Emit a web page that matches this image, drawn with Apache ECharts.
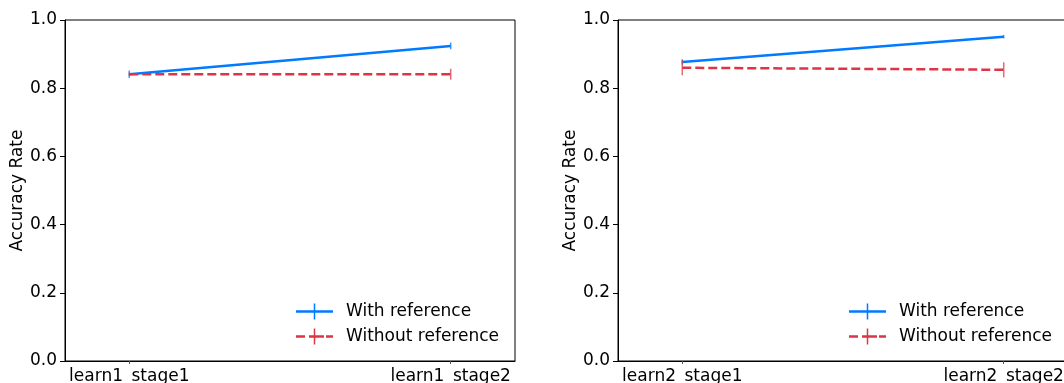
<!DOCTYPE html>
<html>
<head>
<meta charset="utf-8">
<script src="https://cdn.jsdelivr.net/npm/echarts@6/dist/echarts.min.js"></script>
<style>
  html, body { margin: 0; padding: 0; background: #fff; }
  #main { width: 1064px; height: 383px; }
</style>
</head>
<body>
<div id="main"></div>
<script>
// stages on each panel
var stages1 = ['learn1_stage1', 'learn1_stage2'];
var stages2 = ['learn2_stage1', 'learn2_stage2'];

// accuracy values and error half-widths
var withRef1 = [0.841, 0.924];
var withErr1 = [0.011, 0.010];
var withoutRef1 = [0.841, 0.841];
var withoutErr1 = [0.005, 0.016];

var withRef2 = [0.877, 0.951];
var withErr2 = [0.008, 0.005];
var withoutRef2 = [0.860, 0.854];
var withoutErr2 = [0.022, 0.022];

var blue = '#007bff';
var red = '#dc3545';
var font = 'DejaVu Sans';
var fs = 17;

var solidIcon = 'path://M0,6.75h37v2.5h-37z M17.75,0h1.5v16h-1.5z';
var dashIcon = 'path://M0,6.75h9v2.5h-9z M13,6.75h15v2.5h-15z M30,6.75h7v2.5h-7z M17.75,0h1.5v16h-1.5z';

function pts(vals) {
  return vals.map(function (v, i) { return [i, v]; });
}
function errs(vals, e) {
  return vals.map(function (v, i) { return [i, v - e[i], v + e[i]]; });
}
function errSeries(name, idx, vals, e, color) {
  return {
    name: name + ' err',
    type: 'custom',
    xAxisIndex: idx,
    yAxisIndex: idx,
    encode: { x: 0, y: [1, 2] },
    data: errs(vals, e),
    z: 5,
    renderItem: function (params, api) {
      var a = api.coord([api.value(0), api.value(1)]);
      var b = api.coord([api.value(0), api.value(2)]);
      return {
        type: 'line',
        shape: { x1: a[0], y1: a[1], x2: b[0], y2: b[1] },
        style: { stroke: color, lineWidth: 1.5, opacity: 0.75 }
      };
    }
  };
}
function lineSeries(name, idx, vals, color, dashed) {
  return {
    name: name,
    type: 'line',
    xAxisIndex: idx,
    yAxisIndex: idx,
    data: pts(vals),
    symbol: 'none',
    color: color,
    lineStyle: { color: color, width: 2.5, type: dashed ? [9, 4] : 'solid' },
    z: dashed ? 4 : 3
  };
}
function xAxis(idx, names) {
  return {
    type: 'value',
    gridIndex: idx,
    min: -0.2,
    max: 1.2,
    axisLine: { show: true, onZero: false, lineStyle: { color: '#000', width: 1 } },
    axisTick: { show: true, customValues: [0, 1], length: 3, lineStyle: { color: '#555' } },
    axisLabel: {
      customValues: [0, 1],
      margin: 7,
      fontSize: fs,
      fontFamily: font,
      color: '#000',
      formatter: function (v) { return names[Math.round(v)]; }
    },
    splitLine: { show: false }
  };
}
function yAxis(idx) {
  return {
    type: 'value',
    gridIndex: idx,
    min: 0,
    max: 1,
    interval: 0.2,
    name: 'Accuracy Rate',
    nameLocation: 'middle',
    nameRotate: 90,
    nameGap: 38,
    nameTextStyle: { fontSize: fs, fontFamily: font, color: '#000' },
    axisLine: { show: true, onZero: false, lineStyle: { color: '#000', width: 1 } },
    axisTick: { show: true, length: 5, lineStyle: { color: '#000' } },
    axisLabel: {
      margin: 8,
      fontSize: fs,
      fontFamily: font,
      color: '#000',
      formatter: function (v) { return v.toFixed(1); }
    },
    splitLine: { show: false }
  };
}
function legend(left) {
  return {
    orient: 'vertical',
    left: left,
    top: 303,
    padding: 0,
    itemWidth: 37,
    itemHeight: 16,
    itemGap: 8,
    textStyle: { fontSize: fs, fontFamily: font, color: '#000', padding: [0, 0, 0, 8] },
    data: [
      { name: 'With reference', icon: solidIcon, itemStyle: { color: blue } },
      { name: 'Without reference', icon: dashIcon, itemStyle: { color: red } }
    ]
  };
}

var chart = echarts.init(document.getElementById('main'), null, { renderer: 'canvas' });
chart.setOption({
  animation: false,
  backgroundColor: '#fff',
  grid: [
    { left: 65, top: 20, width: 450, height: 341, outerBoundsMode: 'none', show: true, borderColor: '#000', borderWidth: 1 },
    { left: 618, top: 20, width: 450, height: 341, outerBoundsMode: 'none', show: true, borderColor: '#000', borderWidth: 1 }
  ],
  legend: [legend(296), legend(849)],
  xAxis: [xAxis(0, stages1), xAxis(1, stages2)],
  yAxis: [yAxis(0), yAxis(1)],
  series: [
    lineSeries('With reference', 0, withRef1, blue, false),
    lineSeries('Without reference', 0, withoutRef1, red, true),
    errSeries('With reference', 0, withRef1, withErr1, blue),
    errSeries('Without reference', 0, withoutRef1, withoutErr1, red),
    lineSeries('With reference', 1, withRef2, blue, false),
    lineSeries('Without reference', 1, withoutRef2, red, true),
    errSeries('With reference', 1, withRef2, withErr2, blue),
    errSeries('Without reference', 1, withoutRef2, withoutErr2, red)
  ]
});
</script>
</body>
</html>
